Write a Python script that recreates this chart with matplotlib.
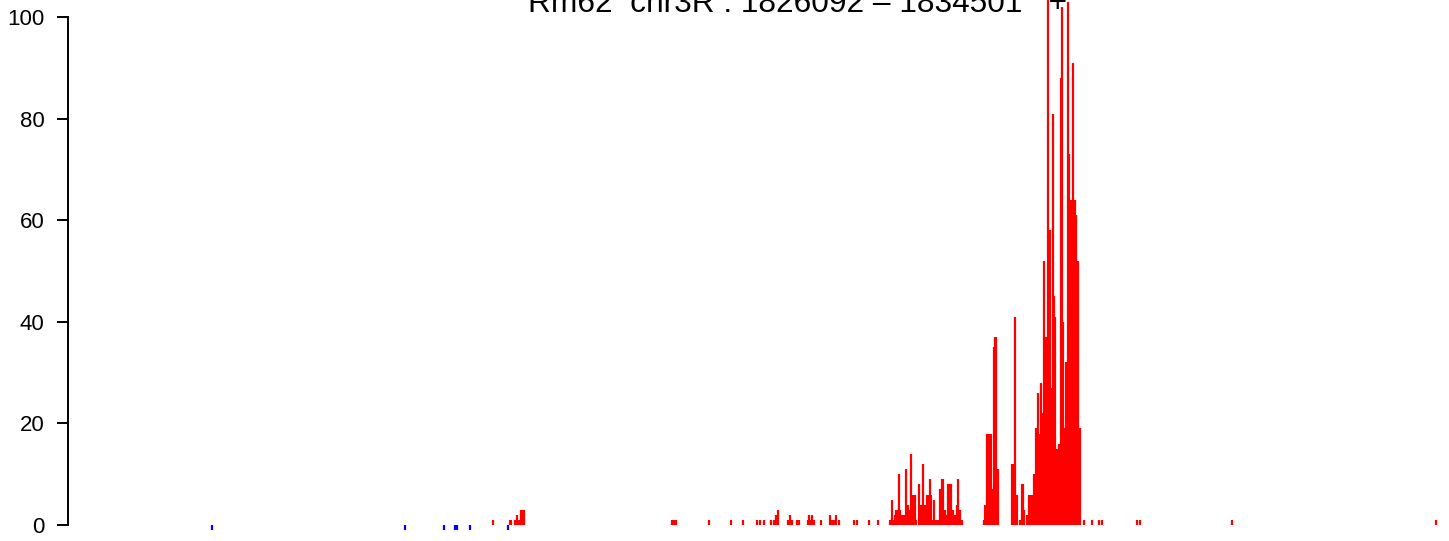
import matplotlib
matplotlib.use("Agg")
import matplotlib.pyplot as plt

plt.rcParams['font.family'] = ['Liberation Sans', 'DejaVu Sans']

# gene / region
gene = "Rm62"
chrom = "chr3R"
start = 1826092
end = 1834501
strand = "+"

# reads on the minus strand (offset from start, bp) -> drawn as -1
minus_pos = [584, 1818, 2067, 2138, 2151, 2234, 2477]
minus_val = [-1, -1, -1, -1, -1, -1, -1]

# reads on the plus strand (offset from start, bp) and coverage
plus_pos = [2381, 2489, 2496, 2521, 2528, 2534, 2541, 2547, 2560, 2566, 2573, 2579,
            3525, 3538, 3551, 3762, 3902, 3979, 4069, 4088, 4114, 4158, 4177, 4190, 4203,
            4267, 4280, 4292, 4324, 4337, 4395, 4401, 4414, 4420, 4433, 4478,
            4535, 4548, 4561, 4574, 4593, 4689, 4708, 4785, 4842,
            4919, 4925, 4932, 4938, 4944, 4951, 4957, 4963, 4976, 4983, 4989, 4995,
            5002, 5008, 5014, 5021, 5034, 5040, 5053, 5059, 5072, 5078, 5085, 5104,
            5117, 5129, 5142, 5149, 5155, 5161, 5174, 5181, 5193, 5200, 5206, 5213,
            5219, 5225, 5238, 5251, 5257, 5270, 5276, 5283, 5289, 5296, 5302, 5308,
            5315, 5321, 5328, 5334, 5340, 5347, 5353, 5360, 5366, 5372, 5379,
            5520, 5526, 5539, 5545, 5552, 5558, 5564, 5571, 5577, 5584, 5590, 5596,
            5603, 5609,
            5699, 5705, 5712, 5718, 5731, 5750, 5763, 5769, 5776,
            5795, 5807, 5814, 5820, 5827, 5833, 5839, 5846, 5852, 5858, 5865, 5871,
            5878, 5884, 5891, 5897, 5903, 5910, 5916, 5923, 5929, 5935, 5942, 5948,
            5955, 5961, 5967, 5974, 5980, 5986, 5993, 5999, 6006, 6012, 6018, 6025,
            6031, 6038, 6044, 6050, 6057, 6063, 6070, 6076, 6082, 6089, 6095, 6102,
            6108, 6114, 6121, 6127, 6134,
            6159, 6210, 6255, 6274, 6498, 6517, 7105, 8409]
plus_val = [1, 1, 1, 1, 1, 2, 1, 1, 3, 3, 3, 3,
            1, 1, 1, 1, 1, 1, 1, 1, 1, 1, 1, 2, 3,
            1, 2, 1, 1, 1, 1, 2, 1, 2, 1, 1,
            2, 1, 1, 2, 1, 1, 1, 1, 1,
            1, 1, 5, 1, 1, 2, 3, 3, 10, 3, 2, 1,
            2, 2, 1, 11, 4, 3, 14, 6, 6, 6, 1, 8,
            4, 12, 4, 1, 6, 6, 9, 6, 1, 5, 1, 1,
            1, 1, 7, 9, 9, 3, 2, 2, 8, 8, 8, 8,
            3, 3, 2, 2, 2, 4, 9, 3, 3, 1, 1,
            1, 4, 18, 18, 14, 18, 18, 7, 7, 35, 37, 37,
            11, 11,
            12, 12, 6, 41, 6, 1, 8, 8, 3,
            2, 6, 6, 4, 6, 5, 10, 10, 19, 19, 26, 18,
            18, 28, 22, 22, 52, 20, 37, 37, 110, 30, 58, 27,
            27, 81, 45, 41, 14, 15, 14, 16, 16, 88, 102, 40,
            19, 19, 32, 32, 103, 73, 64, 64, 64, 91, 64, 64,
            61, 52, 52, 19, 19,
            1, 1, 1, 1, 1, 1, 1, 1]

W, H = 1449, 541
fig = plt.figure(figsize=(W / 100, H / 100), dpi=100)
ax = fig.add_axes([68 / W, 0, (W - 68) / W, 1])

ax.vlines([start + p for p in plus_pos], 0, plus_val, colors='#ff0000', lw=1.6, capstyle='butt')
ax.vlines([start + p for p in minus_pos], 0, minus_val, colors='#0000ff', lw=1.6, capstyle='butt')

ax.set_xlim(start - 336, start + 8492)
ax.set_ylim(-3.15, 103.35)

for s in ['top', 'right', 'bottom']:
    ax.spines[s].set_visible(False)
ax.spines['left'].set_bounds(0, 100)
ax.spines['left'].set_linewidth(1.4)
ax.set_xticks([])
ax.set_yticks([0, 20, 40, 60, 80, 100])
ax.tick_params(axis='y', length=8, width=1.4, pad=9, labelsize=16)

fig.text(798 / W, 1 - 12 / H, f"{gene}  {chrom} : {start} \u2013 {end}   {strand}",
         ha='center', va='baseline', fontsize=22.8)

fig.savefig("out.png", dpi=100)
